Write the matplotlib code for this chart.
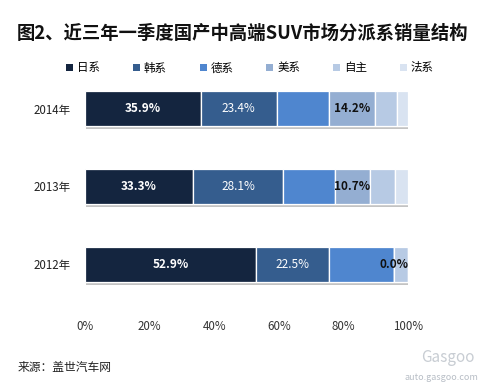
import matplotlib
matplotlib.use("Agg")
import matplotlib.pyplot as plt
import matplotlib.patheffects as pe
from matplotlib.patches import Patch

plt.rcParams['font.family'] = ['Noto Sans CJK SC', 'DejaVu Sans']

years = ['2012年', '2013年', '2014年']
series = ['日系', '韩系', '德系', '美系', '自主', '法系']
values = {
    '日系': [52.9, 33.3, 35.9],
    '韩系': [22.5, 28.1, 23.4],
    '德系': [20.4, 16.0, 16.2],
    '美系': [0.0, 10.7, 14.2],
    '自主': [4.2, 8.0, 6.8],
    '法系': [0.0, 3.9, 3.5],
}
colors = ['#14253f', '#355d8e', '#4f86cf', '#94aed2', '#b7cae4', '#d9e3f1']
label_style = {
    '日系': dict(color='white', fontweight='bold'),
    '韩系': dict(color='white', fontweight='normal'),
    '美系': dict(color='#111111', fontweight='bold'),
}
xticks = [0, 20, 40, 60, 80, 100]
xticklabels = ['0%', '20%', '40%', '60%', '80%', '100%']

W, H = 492, 386
fig = plt.figure(figsize=(W / 100, H / 100), dpi=100)
fig.patch.set_facecolor('white')

ax = fig.add_axes([85 / W, (H - 303) / H, 323 / W, 233 / H])
ypos = list(range(len(years)))
left = [0.0] * len(years)
shadow = [pe.withSimplePatchShadow(offset=(0.8, -2.2), shadow_rgbFace='#555555', alpha=0.35), pe.Normal()]
for s, c in zip(series, colors):
    vals = values[s]
    bars = ax.barh(ypos, vals, left=left, height=0.45, color=c, edgecolor='white', linewidth=0.9)
    for b in bars:
        b.set_path_effects(shadow)
    if s in label_style:
        for y, v, l in zip(ypos, vals, left):
            ax.text(l + v / 2, y, f'{v:.1f}%', ha='center', va='center', fontsize=8.5, **label_style[s])
    left = [l + v for l, v in zip(left, vals)]

ax.set_xlim(0, 100)
ax.set_ylim(-0.5, 2.5)
ax.set_yticks(ypos)
ax.set_yticklabels(years, fontsize=8.3, color='#222222')
ax.set_xticks(xticks)
ax.set_xticklabels(xticklabels, fontsize=8.3, color='#333333')
ax.tick_params(axis='both', length=0)
ax.tick_params(axis='x', pad=12)
ax.tick_params(axis='y', pad=10)
for sp in ax.spines.values():
    sp.set_visible(False)

handles = [Patch(facecolor=c, edgecolor='none', label=s) for s, c in zip(series, colors)]
fig.legend(handles=handles, loc='center', bbox_to_anchor=(250 / W, 1 - 68 / H), ncol=6,
           frameon=False, fontsize=8.3, handlelength=0.6, handleheight=0.6,
           handletextpad=0.35, columnspacing=2.85)

fig.text(17 / W, 1 - 33 / H, '图2、近三年一季度国产中高端SUV市场分派系销量结构', fontsize=13.2,
         fontweight='bold', ha='left', va='center', color='#111111')
fig.text(18 / W, 1 - 368 / H, '来源：盖世汽车网', fontsize=8.5, ha='left', va='center', color='#222222')
fig.text(448 / W, 1 - 357 / H, 'Gasgoo', fontsize=11, ha='center', va='center', color='#c8cdd3')
fig.text(478 / W, 1 - 377 / H, 'auto.gasgoo.com', fontsize=6.5, ha='right', va='center', color='#b8bec6')

fig.savefig('out.png', dpi=100, facecolor='white')
